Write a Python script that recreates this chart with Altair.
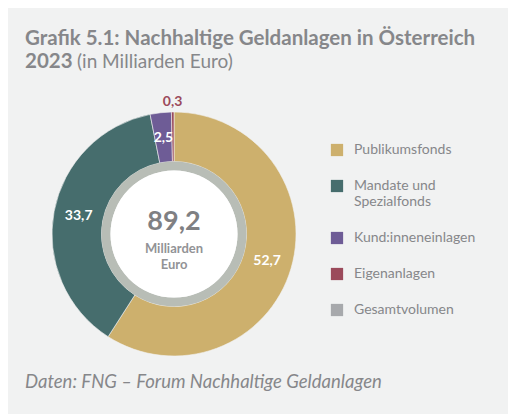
import altair as alt
import pandas as pd

categories = ["Publikumsfonds", "Mandate und Spezialfonds", "Kund:inneneinlagen", "Eigenanlagen"]
values = [52.7, 33.7, 2.5, 0.3]
labels = ["52,7", "33,7", "2,5", "0,3"]
total_value = 89.2
total_label = "89,2"
legend_categories = categories + ["Gesamtvolumen"]
legend_colors = ["#cdb06d", "#466d6d", "#6e5c96", "#9b4a5b", "#a7a9ac"]

title_line1 = "Grafik 5.1: Nachhaltige Geldanlagen in Österreich"
title_year = "2023"
title_unit = "(in Milliarden Euro)"
source = "Daten: FNG – Forum Nachhaltige Geldanlagen"

FONT = "Lato"
GREY_TEXT = "#86878a"
CX, CY = 166, 226

df = pd.DataFrame({"cat": categories, "value": values, "label": labels,
                   "order": list(range(len(categories)))})
tot = pd.DataFrame({"v": [total_value], "label": [total_label]})

theta_scale = alt.Scale(domain=[0, total_value])
color_scale = alt.Scale(domain=legend_categories, range=legend_colors)

base = alt.Chart(df)

donut = base.mark_arc(outerRadius=122, innerRadius=72.5, stroke="#f1f2f2", strokeWidth=0.6).encode(
    theta=alt.Theta("value:Q", stack=True, scale=theta_scale),
    order=alt.Order("order:Q"),
    color=alt.Color("cat:N", scale=color_scale, title=None,
                    legend=alt.Legend(orient="none", legendX=322, legendY=135,
                                      symbolType="square", symbolSize=150, symbolStrokeWidth=0,
                                      labelFont=FONT, labelFontSize=14, labelColor=GREY_TEXT,
                                      labelLimit=300, rowPadding=22, labelOffset=10,
                                      labelExpr="datum.label == 'Mandate und Spezialfonds' ? ['Mandate und', 'Spezialfonds'] : datum.label")),
    x=alt.value(CX), y=alt.value(CY),
)

ring = alt.Chart(tot).mark_arc(outerRadius=72.5, innerRadius=63.5, color="#b8bdb6").encode(
    theta=alt.Theta("v:Q", scale=theta_scale), x=alt.value(CX), y=alt.value(CY))
inner = alt.Chart(tot).mark_arc(outerRadius=63.5, innerRadius=0, color="#ffffff").encode(
    theta=alt.Theta("v:Q", scale=theta_scale), x=alt.value(CX), y=alt.value(CY))

lab = base.transform_window(
    cum="sum(value)", sort=[alt.SortField("order")], frame=[None, 0]
).transform_calculate(mid="datum.cum - datum.value / 2")

lab_in = lab.transform_filter("datum.value >= 1").mark_text(
    radius=97, font=FONT, fontSize=14, fontWeight="bold", color="white").encode(
    theta=alt.Theta("mid:Q", scale=theta_scale, stack=None), text="label:N",
    x=alt.value(CX), y=alt.value(CY))
lab_out = lab.transform_filter("datum.value < 1").mark_text(
    radius=132, font=FONT, fontSize=14, fontWeight="bold", color="#9b4a5b").encode(
    theta=alt.Theta("mid:Q", scale=theta_scale, stack=None), text="label:N",
    x=alt.value(CX), y=alt.value(CY))

center_num = alt.Chart(tot).mark_text(font=FONT, fontSize=27, fontWeight="bold", color="#7f8083",
                                      baseline="alphabetic").encode(
    text="label:N", x=alt.value(CX), y=alt.value(CY - 4))
center_sub = alt.Chart(pd.DataFrame({"t": [["Milliarden", "Euro"]]})).mark_text(
    font=FONT, fontSize=13, fontWeight="bold", color="#929396", baseline="alphabetic", lineHeight=15.5).encode(
    text="t", x=alt.value(CX), y=alt.value(CY + 19))

t1 = alt.Chart(pd.DataFrame({"t": [title_line1]})).mark_text(
    font=FONT, fontSize=20.5, fontWeight="bold", color=GREY_TEXT, align="left", baseline="alphabetic").encode(
    text="t:N", x=alt.value(17), y=alt.value(36.5))
t2 = alt.Chart(pd.DataFrame({"t": [title_year]})).mark_text(
    font=FONT, fontSize=20.5, fontWeight="bold", color=GREY_TEXT, align="left", baseline="alphabetic").encode(
    text="t:N", x=alt.value(17), y=alt.value(60))
t3 = alt.Chart(pd.DataFrame({"t": [title_unit]})).mark_text(
    font=FONT, fontSize=19, fontWeight="normal", color=GREY_TEXT, align="left", baseline="alphabetic").encode(
    text="t:N", x=alt.value(69), y=alt.value(60))
foot = alt.Chart(pd.DataFrame({"t": [source]})).mark_text(
    font=FONT, fontSize=18.5, fontStyle="italic", color=GREY_TEXT, align="left", baseline="alphabetic").encode(
    text="t:N", x=alt.value(17), y=alt.value(380))

chart = alt.layer(donut, ring, inner, lab_in, lab_out, center_num, center_sub, t1, t2, t3, foot).properties(
    width=500, height=406, padding=0, autosize=alt.AutoSizeParams(type="none"),
    background="#f1f2f2"
).configure_view(stroke=None)

chart.save("out.html", embed_options={"renderer": "svg", "actions": False})
